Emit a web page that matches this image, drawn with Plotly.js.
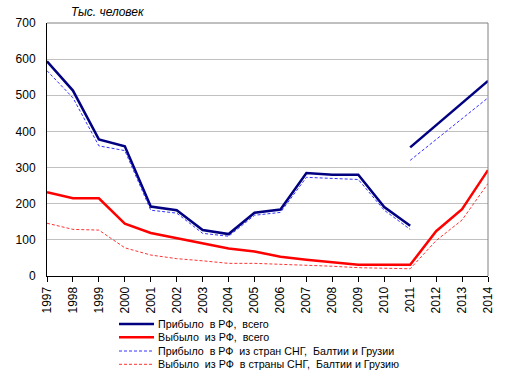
<!DOCTYPE html>
<html><head><meta charset="utf-8">
<script src="https://cdn.plot.ly/plotly-3.0.1.min.js"></script>
<style>html,body{margin:0;padding:0;background:#fff}#chart{width:512px;height:376px}</style>
</head><body><div id="chart"></div>
<script>
var years = [1997,1998,1999,2000,2001,2002,2003,2004,2005,2006,2007,2008,2009,2010,2011,2012,2013,2014];
var yearsOld = [1997,1998,1999,2000,2001,2002,2003,2004,2005,2006,2007,2008,2009,2010,2011];
var yearsNew = [2011,2012,2013,2014];
var arrivedTotalOld = [594,513,378,359,192,182,127,116,175,184,285,280,280,191,139];
var arrivedTotalNew = [356,418,479,540];
var departedTotal = [232,215,215,145,119,104,90,76,68,53,45,38,31,31,31,124,185,293];
var arrivedCisOld = [568,493,360,347,182,174,118,110,168,176,273,270,267,182,129];
var arrivedCisNew = [320,378,435,493];
var departedCis = [146,129,127,78,58,48,42,35,35,33,31,27,23,22,20,98,155,256];
var names = ['Прибыло  в РФ,  всего','Выбыло  из РФ,  всего','Прибыло  в РФ  из стран СНГ,  Балтии и Грузии','Выбыло  из РФ  в страны СНГ,  Балтии и Грузию'];
var yTicks = [0,100,200,300,400,500,600,700];

var navy = '#000080', red = '#FF0000', blueD = '#3333FF', redD = '#FF3333';
var styles = [
  {color:navy,width:2.5},
  {color:red,width:2.5},
  {color:blueD,width:1,dash:'3px,2px'},
  {color:redD,width:1,dash:'3px,2px'}
];
var traces = [
  {x: yearsOld, y: arrivedTotalOld, name: names[0], mode:'lines', line:styles[0]},
  {x: years, y: departedTotal, name: names[1], mode:'lines', line:styles[1]},
  {x: yearsOld, y: arrivedCisOld, name: names[2], mode:'lines', line:styles[2]},
  {x: years, y: departedCis, name: names[3], mode:'lines', line:styles[3]},
  {x: yearsNew, y: arrivedTotalNew, name: names[0], mode:'lines', line:styles[0]},
  {x: yearsNew, y: arrivedCisNew, name: names[2], mode:'lines', line:styles[2]}
];

// plot area in pixels
var L = 47, R = 488, T = 23, B = 276;
function px2x(px){ return (px - L) / (R - L); }
function py2y(py){ return (B - py) / (B - T); }

var shapes = [
  {type:'line', xref:'paper', yref:'paper', x0:0, x1:1, y0:1, y1:1, line:{color:'#808080', width:1}},
  {type:'line', xref:'paper', yref:'paper', x0:1, x1:1, y0:0, y1:1, line:{color:'#808080', width:1}}
];
var annotations = [
  {text:'<i>Тыс. человек</i>', xref:'paper', yref:'paper', x:0.05, y:1, xanchor:'left', yanchor:'bottom', yshift:2, showarrow:false, font:{size:12}}
];
var rowY = [324, 337.3, 351, 364.3];
for (var i = 0; i < 4; i++) {
  shapes.push({type:'line', xref:'paper', yref:'paper', x0:px2x(119), x1:px2x(154), y0:py2y(rowY[i]), y1:py2y(rowY[i]), line:styles[i]});
  annotations.push({text:names[i], xref:'paper', yref:'paper', x:px2x(156), y:py2y(rowY[i]), xanchor:'left', yanchor:'middle', showarrow:false, font:{size:10.7}});
}

var layout = {
  width:512, height:376,
  margin:{l:L, r:512-R, t:T, b:376-B, pad:0, autoexpand:false},
  paper_bgcolor:'#fff', plot_bgcolor:'#fff',
  font:{family:'Liberation Sans, Arial, sans-serif', size:12, color:'#000'},
  showlegend:false,
  xaxis:{range:[1997,2014], tickmode:'array', tickvals:years, ticktext:years.map(String), tickangle:-90,
         ticks:'outside', ticklen:5, tickcolor:'#000', showline:true, linecolor:'#000', linewidth:1,
         showgrid:false, zeroline:false, automargin:false, tickfont:{size:12}},
  yaxis:{range:[0,700], tickmode:'array', tickvals:yTicks, showline:true, linecolor:'#000', linewidth:1,
         showgrid:true, gridcolor:'#C0C0C0', gridwidth:1, zeroline:false, ticks:'', automargin:false, ticklabelstandoff:8, tickfont:{size:12}},
  shapes: shapes,
  annotations: annotations
};
Plotly.newPlot('chart', traces, layout, {staticPlot:true});
</script></body></html>
